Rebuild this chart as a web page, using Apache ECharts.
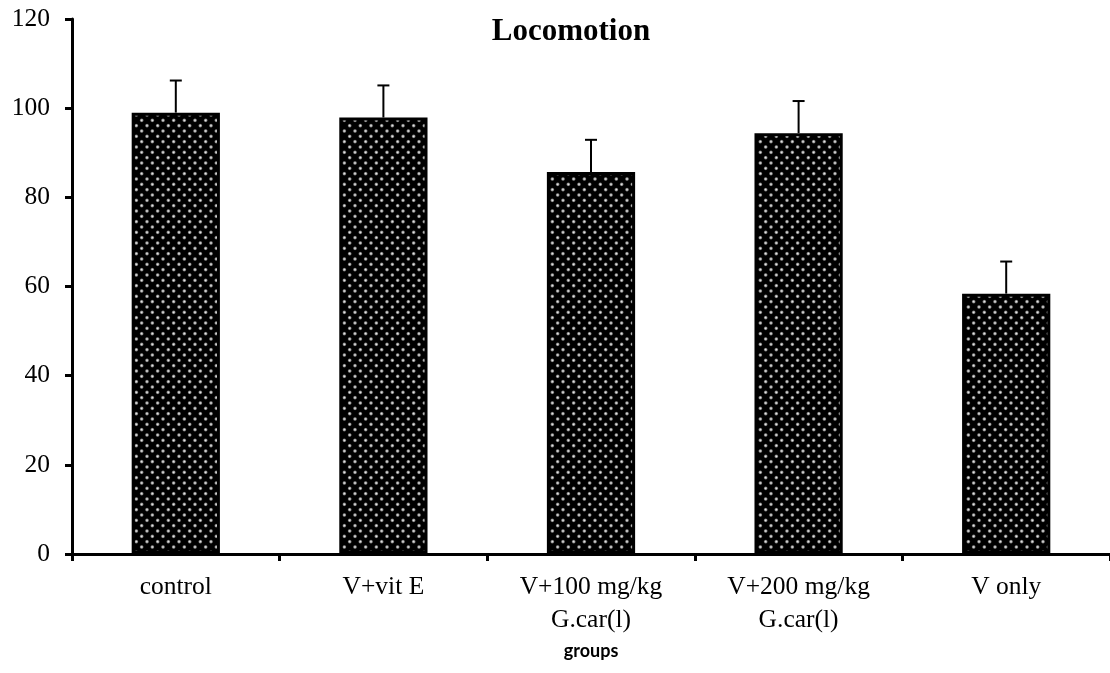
<!DOCTYPE html>
<html>
<head>
<meta charset="utf-8">
<script src="https://cdn.jsdelivr.net/npm/echarts@6/dist/echarts.min.js"></script>
<style>
  html, body { margin: 0; padding: 0; background: #fff; }
  #chart { width: 1110px; height: 673px; }
</style>
</head>
<body>
<div id="chart"></div>
<script>
// Locomotion scores per treatment group (mean and error)
const groups = ['control', 'V+vit E', 'V+100 mg/kg\nG.car(l)', 'V+200 mg/kg\nG.car(l)', 'V only'];
const means = [99.0, 97.9, 85.7, 94.4, 58.4];
const errors = [7.2, 7.2, 7.2, 7.2, 7.2];
const yTicks = { min: 0, max: 120, step: 20 };

// Dotted fill: black tile with a staggered grid of light dots
function dotTile() {
  const c = document.createElement('canvas');
  c.width = 32; c.height = 32;
  const ctx = c.getContext('2d');
  ctx.fillStyle = '#000';
  ctx.fillRect(0, 0, 32, 32);
  const dx = 32 / 3, dy = 32 / 6;
  for (let r = 0; r < 7; r++) {
    for (let k = -1; k < 4; k++) {
      const x = k * dx + (r % 2 ? dx / 2 : 0) + 3;
      const y = r * dy + 3;
      const g = ctx.createRadialGradient(x, y, 0, x, y, 2.4);
      g.addColorStop(0, 'rgba(245,245,245,1)');
      g.addColorStop(0.5, 'rgba(190,190,190,0.8)');
      g.addColorStop(1, 'rgba(90,90,90,0)');
      ctx.fillStyle = g;
      ctx.beginPath();
      ctx.arc(x, y, 2.4, 0, Math.PI * 2);
      ctx.fill();
    }
  }
  return c;
}

const errData = means.map((m, i) => [i, m, errors[i]]);
const serif = '"Liberation Serif", "Times New Roman", serif';

const chart = echarts.init(document.getElementById('chart'), null, { renderer: 'canvas' });
chart.setOption({
  animation: false,
  title: {
    text: 'Locomotion',
    left: 566,
    top: 11,
    textAlign: 'center',
    textStyle: { fontFamily: serif, fontWeight: 'bold', fontSize: 31, color: '#000' }
  },
  grid: { left: 72, right: 0, top: 19, bottom: 119, containLabel: false },
  xAxis: {
    type: 'category',
    data: groups,
    name: 'groups',
    nameLocation: 'middle',
    nameGap: 88,
    nameTextStyle: { fontFamily: 'Lato, "Open Sans", sans-serif', fontWeight: 'bold', fontSize: 18, color: '#000' },
    axisLine: { lineStyle: { color: '#000', width: 3 } },
    axisTick: { show: true, length: 7, lineStyle: { color: '#000', width: 3 } },
    axisLabel: { fontFamily: serif, fontSize: 25.5, color: '#000', margin: 17, lineHeight: 33 }
  },
  yAxis: {
    type: 'value',
    min: yTicks.min,
    max: yTicks.max,
    interval: yTicks.step,
    axisLine: { show: true, lineStyle: { color: '#000', width: 3 } },
    axisTick: { show: true, length: 7, lineStyle: { color: '#000', width: 3 } },
    splitLine: { show: false },
    axisLabel: { fontFamily: serif, fontSize: 25.5, color: '#000', margin: 22 }
  },
  series: [
    {
      type: 'bar',
      data: means,
      barWidth: '42.5%',
      itemStyle: {
        color: { image: dotTile(), repeat: 'repeat' },
        borderColor: '#000',
        borderWidth: 3
      },
      z: 2
    },
    {
      type: 'custom',
      data: errData,
      z: 3,
      renderItem: function (params, api) {
        const i = api.value(0);
        const m = api.value(1);
        const e = api.value(2);
        const base = api.coord([i, m]);
        const top = api.coord([i, m + e]);
        const half = 6;
        return {
          type: 'group',
          children: [
            { type: 'line', shape: { x1: base[0], y1: base[1], x2: top[0], y2: top[1] },
              style: { stroke: '#000', lineWidth: 2 } },
            { type: 'line', shape: { x1: top[0] - half, y1: top[1], x2: top[0] + half, y2: top[1] },
              style: { stroke: '#000', lineWidth: 2 } }
          ]
        };
      }
    }
  ]
});
</script>
</body>
</html>
